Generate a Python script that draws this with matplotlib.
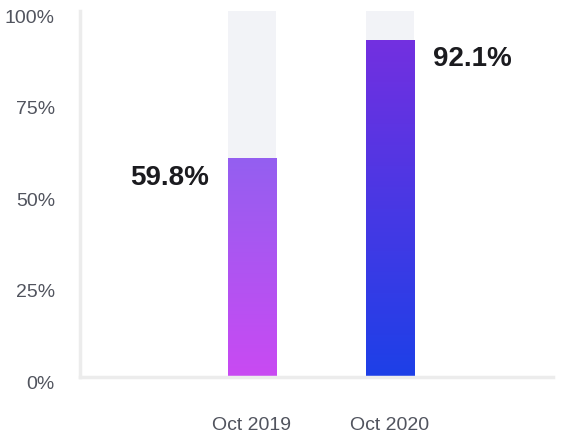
import numpy as np
import matplotlib
matplotlib.use("Agg")
import matplotlib.pyplot as plt
import matplotlib.transforms as mtransforms
from matplotlib.colors import LinearSegmentedColormap

plt.rcParams["font.family"] = ["Liberation Sans", "DejaVu Sans"]

categories = ["Oct 2019", "Oct 2020"]
values = [59.8, 92.1]
labels = ["59.8%", "92.1%"]
yticks = [0, 25, 50, 75, 100]
ytick_labels = ["0%", "25%", "50%", "75%", "100%"]

# gradient (bottom colour, top colour) per bar
gradients = [("#c94af3", "#945ff0"), ("#1d40e8", "#7330e0")]

fig = plt.figure(figsize=(5.67, 4.35), dpi=100)
ax = fig.add_axes([0.141, 0.131, 0.834, 0.841])

x = np.arange(len(categories))
width = 0.348

# light background track up to 100%
ax.bar(x, [100] * len(x), width=width, color="#f2f3f7", zorder=1)
bars = ax.bar(x, values, width=width, color="none", zorder=2)

for bar, (c0, c1) in zip(bars, gradients):
    cmap = LinearSegmentedColormap.from_list("g", [c0, c1])
    grad = np.linspace(0, 1, 256).reshape(-1, 1)
    x0, w, h = bar.get_x(), bar.get_width(), bar.get_height()
    im = ax.imshow(grad, cmap=cmap, origin="lower", aspect="auto",
                   extent=[x0, x0 + w, 0, h], zorder=2)
    im.set_clip_path(bar)

# value labels
ax.text(x[0] - 0.6, values[0] - 5, labels[0], ha="center", va="center",
        fontsize=20, fontweight="bold", color="#1b1b1f")
ax.text(x[1] + 0.6, values[1] - 5, labels[1], ha="center", va="center",
        fontsize=20, fontweight="bold", color="#1b1b1f")

ax.set_xlim(-1.246, 2.18)
ax.set_ylim(0, 100)
ax.set_xticks(x)
ax.set_xticklabels(categories)
ax.set_yticks(yticks)
ax.set_yticklabels(ytick_labels)
ax.tick_params(axis="both", length=0, labelsize=14, labelcolor="#51545e")
ax.tick_params(axis="x", pad=28)
ax.tick_params(axis="y", pad=18)

# nudge y tick labels down a little, as in the reference
offset = mtransforms.ScaledTranslation(0, -4 / 100, fig.dpi_scale_trans)
for lbl in ax.get_yticklabels():
    lbl.set_transform(lbl.get_transform() + offset)

for s in ["top", "right"]:
    ax.spines[s].set_visible(False)
for s in ["left", "bottom"]:
    ax.spines[s].set_color("#ececec")
    ax.spines[s].set_linewidth(2.5)

fig.savefig("out.png", dpi=100)
